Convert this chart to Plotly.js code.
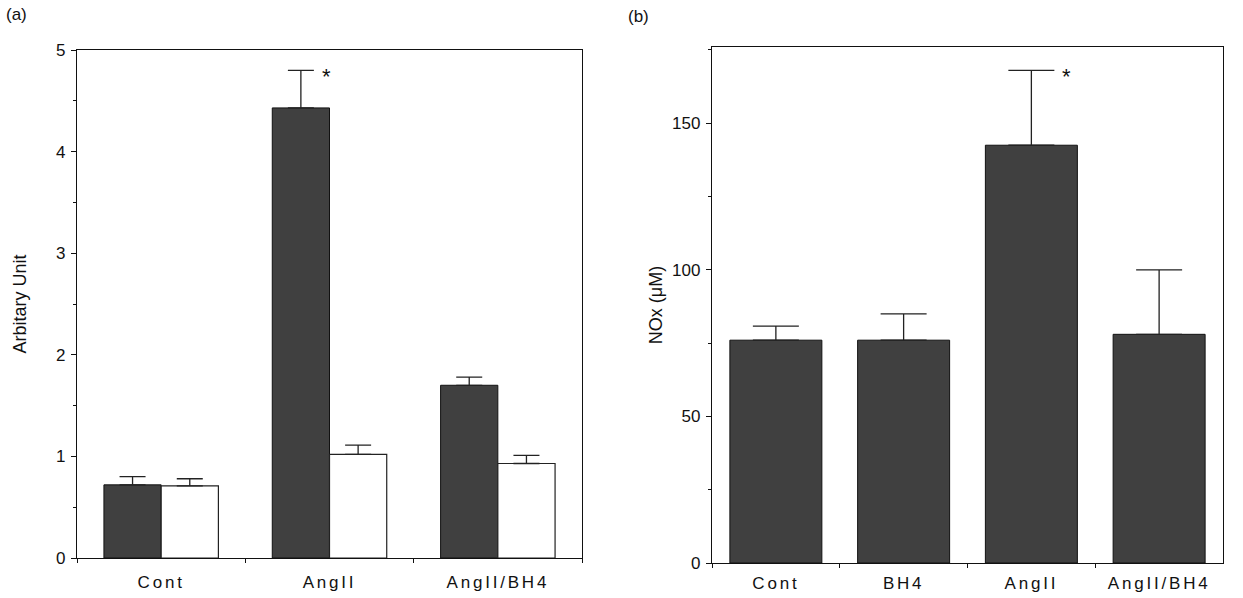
<!DOCTYPE html>
<html>
<head>
<meta charset="utf-8">
<script src="https://cdn.plot.ly/plotly-3.0.1.min.js"></script>
<style>
html,body{margin:0;padding:0;background:#fff;}
#chart{width:1243px;height:598px;}
.xtick text, .x2tick text { letter-spacing: 2.8px; }
</style>
</head>
<body>
<div id="chart"></div>
<script>
// Panel (a)
const catsA = ["Cont", "AngII", "AngII/BH4"];
const darkA = [0.72, 4.43, 1.70];
const darkErrA = [0.08, 0.37, 0.08];
const whiteA = [0.71, 1.02, 0.93];
const whiteErrA = [0.07, 0.09, 0.08];
// Panel (b)
const catsB = ["Cont", "BH4", "AngII", "AngII/BH4"];
const valsB = [76, 76, 142.5, 78];
const errB = [4.8, 9, 25.5, 22];
const yTitleA = "Arbitary Unit";
const yTitleB = "NOx (μM)";

const W = 1243, H = 598;
const fam = "Liberation Sans, Arial, sans-serif";
const font = {family: fam, size: 17, color: "#111"};
const titleFont = {family: fam, size: 18, color: "#111"};
const darkFill = "#404040";
const bw = 0.34;

const traces = [
  {type: "bar", x: catsA, y: darkA, xaxis: "x", yaxis: "y", width: bw, offset: -bw,
   marker: {color: darkFill, line: {color: "#111", width: 1}},
   error_y: {type: "data", array: darkErrA, arrayminus: darkA.map(() => 0), symmetric: false, color: "#222", thickness: 1.3, width: 13},
   showlegend: false, hoverinfo: "skip"},
  {type: "bar", x: catsA, y: whiteA, xaxis: "x", yaxis: "y", width: bw, offset: 0,
   marker: {color: "#ffffff", line: {color: "#222", width: 1.2}},
   error_y: {type: "data", array: whiteErrA, arrayminus: whiteA.map(() => 0), symmetric: false, color: "#222", thickness: 1.3, width: 13},
   showlegend: false, hoverinfo: "skip"},
  {type: "bar", x: catsB, y: valsB, xaxis: "x2", yaxis: "y2", width: 0.72,
   marker: {color: darkFill, line: {color: "#111", width: 1}},
   error_y: {type: "data", array: errB, arrayminus: valsB.map(() => 0), symmetric: false, color: "#222", thickness: 1.3, width: 23},
   showlegend: false, hoverinfo: "skip"}
];

const axLine = {showline: true, linecolor: "#111", linewidth: 1.2, mirror: true, showgrid: false, zeroline: false, automargin: false, tickfont: font, tickcolor: "#111"};

const layout = {
  width: W, height: H,
  margin: {l: 0, r: 0, t: 0, b: 0},
  paper_bgcolor: "#fff", plot_bgcolor: "#fff",
  barmode: "overlay",
  font: font,
  showlegend: false,
  xaxis: Object.assign({}, axLine, {domain: [77/W, 582/W], anchor: "y", type: "category",
    range: [-0.5, 2.5], ticks: "outside", tickson: "boundaries", ticklen: 4, ticklabelstandoff: 8}),
  yaxis: Object.assign({}, axLine, {domain: [(H-558)/H, (H-50)/H], anchor: "x", range: [0, 5],
    dtick: 1, ticks: "outside", ticklen: 5, ticklabelstandoff: 2,
    minor: {ticks: "outside", ticklen: 3, dtick: 0.5, tickcolor: "#111"},
    title: {text: yTitleA, font: titleFont, standoff: 24}}),
  xaxis2: Object.assign({}, axLine, {domain: [712/W, 1223/W], anchor: "y2", type: "category",
    range: [-0.5, 3.5], ticks: "outside", tickson: "boundaries", ticklen: 4, ticklabelstandoff: 4}),
  yaxis2: Object.assign({}, axLine, {domain: [(H-563)/H, (H-47)/H], anchor: "x2", range: [0, 176],
    dtick: 50, ticks: "outside", ticklen: 5, ticklabelstandoff: 2,
    minor: {ticks: "outside", ticklen: 3, dtick: 25, tickcolor: "#111"},
    title: {text: yTitleB, font: titleFont, standoff: 4}}),
  annotations: [
    {xref: "paper", yref: "paper", x: 4/W, y: 1 - 15/H, xanchor: "left", yanchor: "middle",
     text: "(a)", showarrow: false, font: font},
    {xref: "paper", yref: "paper", x: 626/W, y: 1 - 17/H, xanchor: "left", yanchor: "middle",
     text: "(b)", showarrow: false, font: font},
    {xref: "x", yref: "y", x: "AngII", y: darkA[1] + darkErrA[1], xshift: -3.5, yshift: -6,
     text: "*", showarrow: false, font: Object.assign({}, font, {size: 22})},
    {xref: "x2", yref: "y2", x: "AngII", y: valsB[2] + errB[2], xshift: 35, yshift: -6,
     text: "*", showarrow: false, font: Object.assign({}, font, {size: 22})}
  ]
};

Plotly.newPlot("chart", traces, layout, {staticPlot: true, displayModeBar: false});
</script>
</body>
</html>
